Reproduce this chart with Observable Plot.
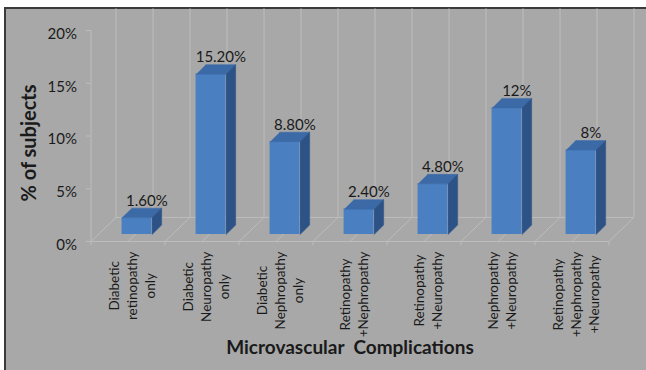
<!DOCTYPE html>
<html><head><meta charset="utf-8">
<script src="https://cdn.jsdelivr.net/npm/d3@7"></script>
<script src="https://cdn.jsdelivr.net/npm/@observablehq/plot@0.6"></script>
<style>
html,body{margin:0;padding:0;background:#fff;}
#wrap{position:relative;width:646px;height:370px;background:#fff;overflow:hidden;}
#panel{position:absolute;left:4px;top:7px;right:0;bottom:0;background:#a8a8a8;border-left:2px solid #3a3a3a;border-top:2px solid #3a3a3a;}
#chart{position:absolute;left:0;top:0;}
</style></head><body>
<div id="wrap"><div id="panel"></div><div id="chart"></div></div>
<script>
// ---- data ----
const categories = [
  ["Diabetic","retinopathy","only"],
  ["Diabetic","Neuropathy","only"],
  ["Diabetic","Nephropathy","only"],
  ["Retinopathy","+Nephropathy"],
  ["Retinopathy","+Neuropathy"],
  ["Nephropathy","+Neuropathy"],
  ["Retinopathy","+Nephropathy","+Neuropathy"]
];
const values = [0.016, 0.152, 0.088, 0.024, 0.048, 0.12, 0.08];
const valueLabels = ["1.60%","15.20%","8.80%","2.40%","4.80%","12%","8%"];
const yTicks = [0, 0.05, 0.10, 0.15, 0.20];
const yTickLabels = ["0%","5%","10%","15%","20%"];
const yTitle = "% of subjects";
const xTitle = "Microvascular  Complications";

// ---- style constants ----
const FONT = "Lato, 'Open Sans', sans-serif";
const gridColor = "#bdbdbd";
const frontColor = "#4a7fc1", topColor = "#3b6aa6", sideColor = "#2d5386";
const floorDX = 0.338, floorDY = 0.0228;   // floor depth (data units)
const bx1 = -0.08, bx2 = 0.325;             // bar front face extent around category
const depX = 0.13, depY = 0.009;            // bar depth (data units)
const barShift = -7;                        // bars sit mid-floor (px)
const xLabelSize = 13.5;

const n = categories.length;
const idx = d3.range(n);
const boundaries = d3.range(n + 1).map(k => k - 0.5);
const gridXs = [...boundaries, ...idx].sort((a, b) => a - b);

const bars = values.map((v, i) => ({i, v, x1: i + bx1, x2: i + bx2}));
const topFace = bars.flatMap(b => [[b.x1, b.v], [b.x2, b.v], [b.x2 + depX, b.v + depY], [b.x1 + depX, b.v + depY]]
  .map(([x, y]) => ({bar: b.i, x, y})));
const sideFace = bars.flatMap(b => [[b.x2, 0], [b.x2 + depX, depY], [b.x2 + depX, b.v + depY], [b.x2, b.v]]
  .map(([x, y]) => ({bar: b.i, x, y})));

// measure label block lengths for top alignment
const ctx = document.createElement("canvas").getContext("2d");
ctx.font = `${xLabelSize}px ${FONT}`;
const blockLen = categories.map(lines => d3.max(lines, s => ctx.measureText(s).width));

const xLabelMarks = categories.map((lines, i) => Plot.text([lines.join("\n")], {
  x: () => i, y: () => 0, text: d => d, rotate: -90, textAnchor: "middle", lineAnchor: "middle",
  lineHeight: 18 / xLabelSize, fontSize: xLabelSize, dx: 3, dy: 10 + blockLen[i] / 2, fill: "#1a1a1a"
}));

const plot = Plot.plot({
  width: 646, height: 370,
  marginLeft: 90.5, marginRight: 37.5, marginTop: 30, marginBottom: 129,
  style: {background: "none", fontFamily: FONT, color: "#1a1a1a", overflow: "visible"},
  x: {type: "linear", domain: [-0.5, n - 0.5], axis: null},
  y: {domain: [0, 0.2], axis: null},
  marks: [
    // back wall vertical gridlines
    Plot.ruleX(gridXs, {x: d => d + floorDX, y1: floorDY, y2: 0.2205, stroke: gridColor, strokeWidth: 1}),
    // floor front & back edges
    Plot.ruleY([0], {x1: -0.5, x2: n - 0.5, stroke: gridColor}),
    Plot.ruleY([floorDY], {x1: -0.5 + floorDX, x2: n - 0.5 + floorDX, stroke: gridColor}),
    // floor diagonals
    Plot.link(gridXs, {x1: d => d, y1: 0, x2: d => d + floorDX, y2: floorDY, stroke: gridColor}),
    // x ticks below front edge
    Plot.ruleX(boundaries, {x: d => d, y1: 0, y2: -0.004, stroke: gridColor}),
    // y axis
    Plot.ruleX([-0.5], {y1: 0, y2: 0.2, stroke: gridColor}),
    Plot.ruleY(yTicks, {x1: -0.5, x2: -0.5 - 0.06, stroke: gridColor}),
    Plot.text(yTicks, {x: -0.5, y: d => d, text: (d, i) => yTickLabels[i], textAnchor: "end", dx: -14, dy: 3.5, fontSize: 15, fill: "#1a1a1a"}),
    // bars: front, top, side
    Plot.rect(bars, {x1: "x1", x2: "x2", y1: 0, y2: "v", fill: frontColor, dy: barShift}),
    Plot.line(topFace, {x: "x", y: "y", z: "bar", fill: topColor, stroke: topColor, strokeWidth: 0.5, dy: barShift}),
    Plot.line(sideFace, {x: "x", y: "y", z: "bar", fill: sideColor, stroke: sideColor, strokeWidth: 0.5, dy: barShift}),
    // value labels
    Plot.text(bars, {x: b => b.i + 0.255, y: b => b.v + depY, text: (b, i) => valueLabels[i], dy: barShift - 7, fontSize: 15, fill: "#1a1a1a"}),
    // category labels
    ...xLabelMarks,
    // axis titles
    Plot.text([yTitle], {frameAnchor: "left", text: d => d, rotate: -90, textAnchor: "middle", dx: -61, dy: 7, fontSize: 20, fontWeight: "bold", fill: "#1a1a1a"}),
    Plot.text([xTitle], {frameAnchor: "bottom", text: d => d, textAnchor: "middle", dy: 112, fontSize: 19, fontWeight: "bold", fill: "#1a1a1a"})
  ]
});
document.getElementById("chart").appendChild(plot);
</script>
</body></html>
